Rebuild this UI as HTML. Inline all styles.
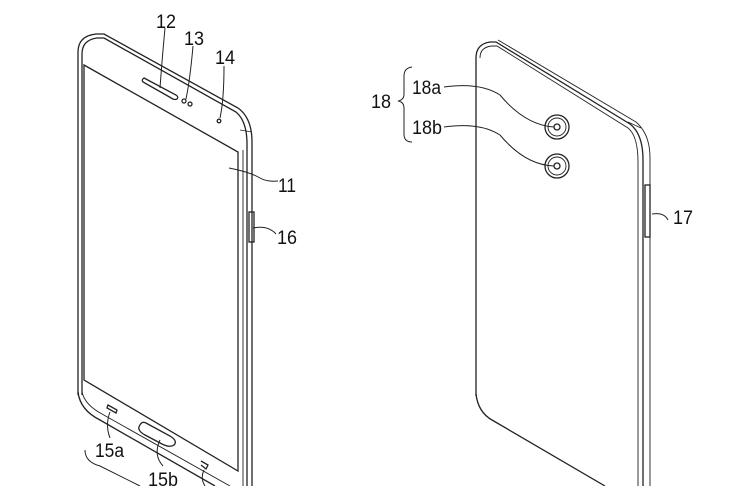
<!DOCTYPE html>
<html><head><style>
html,body{margin:0;padding:0;background:#fff;}
svg{display:block;}
text{font-family:"Liberation Sans Narrow","Liberation Sans",sans-serif;font-size:19px;fill:#111;}
</style></head><body>
<svg width="741" height="486" viewBox="0 0 741 486" xmlns="http://www.w3.org/2000/svg">
<g fill="none" stroke="#222" stroke-width="1.3">
<path d="M78 395 L78 52 Q78 36 96 34 L104 34 L238 108 Q252 118 252 142 L252 486"/>
<path d="M82 395 L82 54 Q82 40 97 38 L104 38 L236 112 Q247 121 247 144 L247 486"/>
<path d="M243 150 L243 486" stroke-width="0.9"/>
<path d="M240 130 L252 132" stroke-width="0.8"/>
<path d="M84 65 L238 152 L238 471 L84 380 Z"/>
<path d="M78 392 Q80 410 100 420 L215 486"/>
<path d="M82 392 Q85 405 102 414 L230 486" stroke-width="0.9"/>
<path d="M144 78 L176 95 Q179 97 177 99 Q175 100 173 99 L143 82 Q141 80 144 78 Z"/>
<circle cx="184" cy="101" r="2"/>
<circle cx="190" cy="104" r="2"/>
<circle cx="219" cy="121" r="1.8"/>
<rect x="249" y="212" width="5" height="30"/>
<path d="M108 405 L117 410 L116 413 L107 408 Z"/>
<path d="M146 423 L170 436 Q178 441 174 445 Q170 448 162 444 L145 435 Q136 430 140 425 Q142 421 146 423 Z"/>
<path d="M201 461 L208 465 L206 469 L201 465"/>
<path d="M165 28 Q162 60 160 88" stroke-width="1"/>
<path d="M193 46 Q190 80 186 99" stroke-width="1"/>
<path d="M224 66 Q224 100 220 118" stroke-width="1"/>
<path d="M229 168 Q250 172 260 178 Q267 182 278 181" stroke-width="1"/>
<path d="M253 228 Q268 225 276 234" stroke-width="1"/>
<path d="M110 412 Q105 425 110 438" stroke-width="1"/>
<path d="M160 440 Q153 455 163 466" stroke-width="1"/>
<path d="M204 470 Q200 478 205 486" stroke-width="1"/>
<path d="M85 450 Q85 462 100 466 L140 486" stroke-width="1"/>

<path d="M476 396 L476 58 Q476 44 490 42 L496 42 L630 124 Q643 134 643 160 L643 486"/>
<path d="M480 58 Q480 47 492 46 L497 46 L628 128 Q638 136 638 162 L638 486" stroke-width="0.9"/>
<path d="M650 486 L650 158 Q650 134 636 122 L498 40" stroke-width="0.9"/>
<path d="M628 122 L641 128" stroke-width="0.8"/>
<path d="M476 394 Q478 412 492 420 L605 486"/>
<rect x="645" y="185" width="5" height="52"/>
<circle cx="557" cy="127" r="12"/><circle cx="557" cy="127" r="9" stroke-width="0.9"/><circle cx="557" cy="127" r="3"/>
<circle cx="557" cy="166" r="12"/><circle cx="557" cy="166" r="9" stroke-width="0.9"/><circle cx="557" cy="166" r="3"/>
<path d="M444 87 Q480 82 500 95 Q525 125 554 127" stroke-width="1"/>
<path d="M444 127 Q480 122 500 135 Q525 165 554 166" stroke-width="1"/>
<path d="M652 214 Q664 212 668 220" stroke-width="1"/>
<path d="M412 67 Q404 68 404 76 L404 94 Q404 100 398 101 Q404 102 404 108 L404 134 Q404 142 412 142" stroke-width="1"/>
</g>
<text x="156" y="28" textLength="20" lengthAdjust="spacingAndGlyphs">12</text>
<text x="184" y="45" textLength="20" lengthAdjust="spacingAndGlyphs">13</text>
<text x="215" y="64" textLength="20" lengthAdjust="spacingAndGlyphs">14</text>
<text x="278" y="192" textLength="18" lengthAdjust="spacingAndGlyphs">11</text>
<text x="277" y="244" textLength="20" lengthAdjust="spacingAndGlyphs">16</text>
<text x="95" y="457" textLength="29" lengthAdjust="spacingAndGlyphs">15a</text>
<text x="148" y="486" textLength="30" lengthAdjust="spacingAndGlyphs">15b</text>
<text x="371" y="108" textLength="20" lengthAdjust="spacingAndGlyphs">18</text>
<text x="412" y="94" textLength="29" lengthAdjust="spacingAndGlyphs">18a</text>
<text x="412" y="134" textLength="30" lengthAdjust="spacingAndGlyphs">18b</text>
<text x="673" y="224" textLength="20" lengthAdjust="spacingAndGlyphs">17</text>
</svg>
</body></html>
